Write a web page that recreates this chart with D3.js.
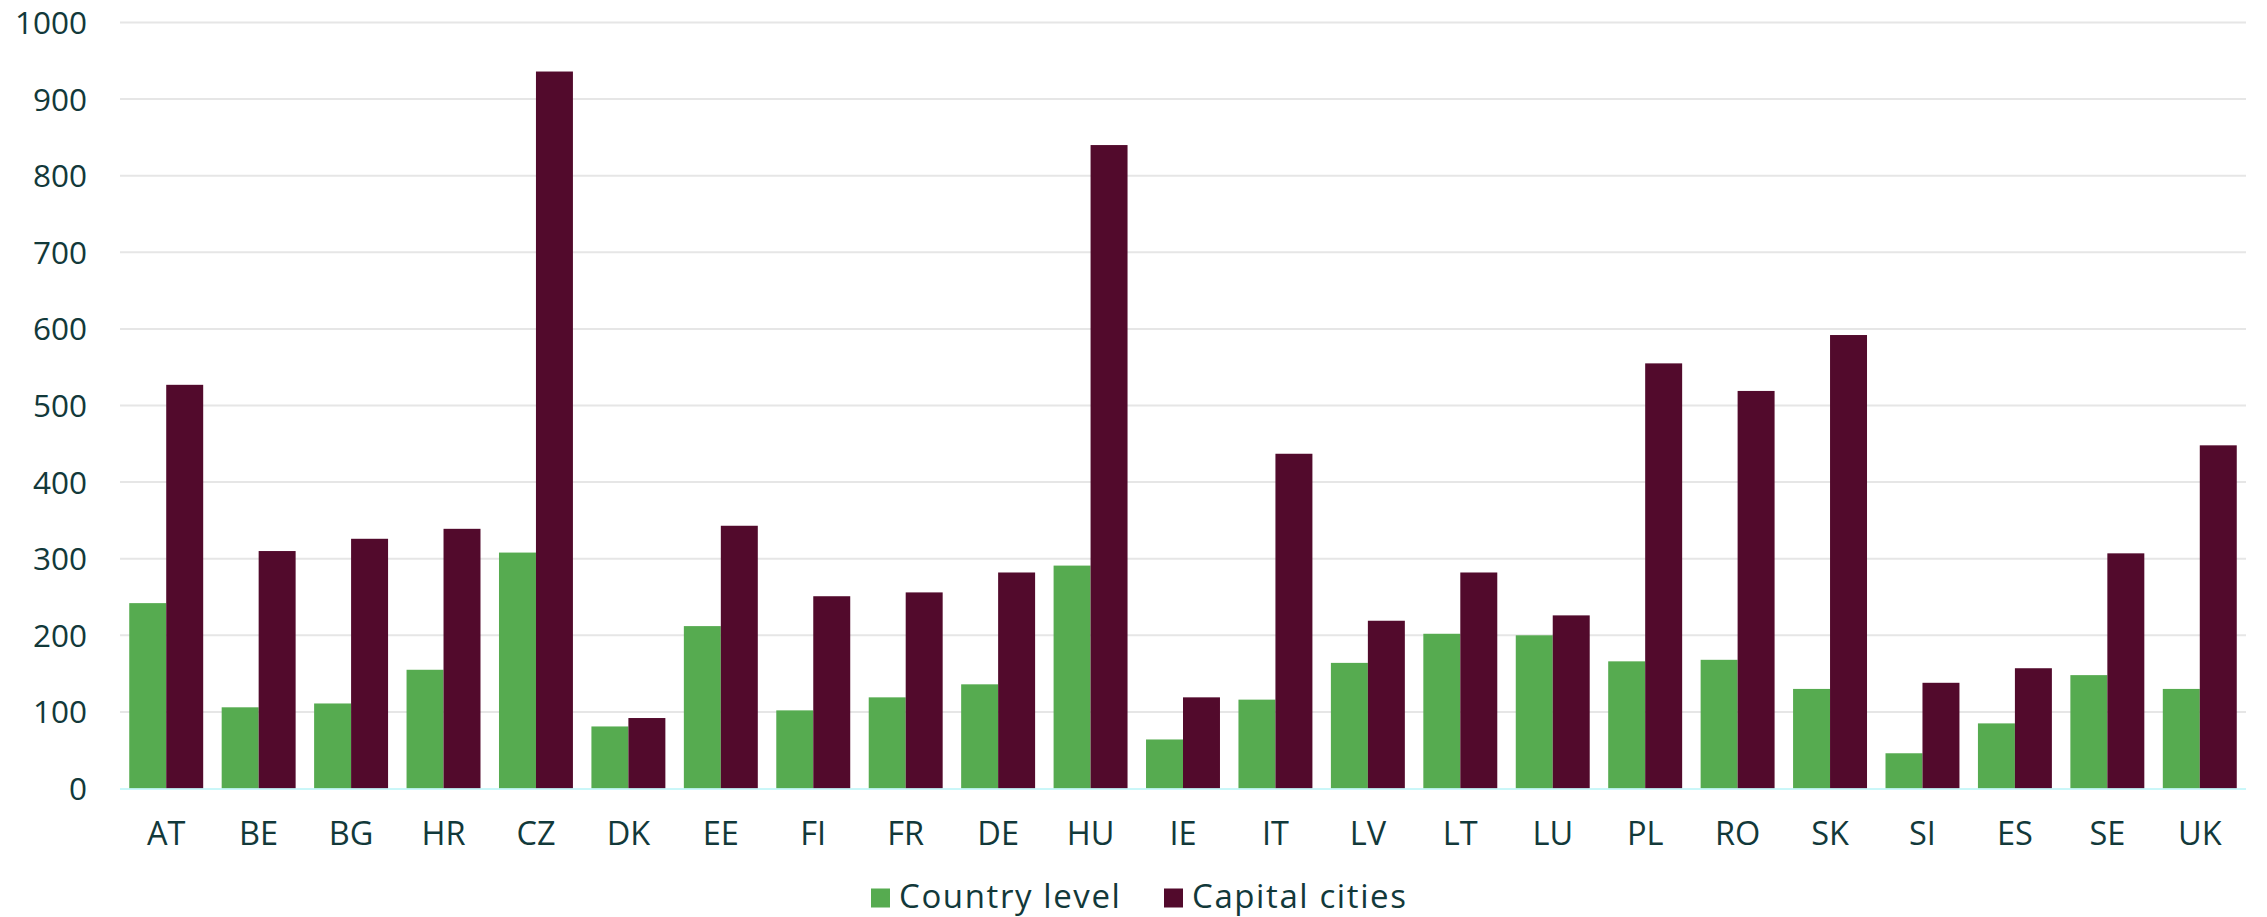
<!DOCTYPE html>
<html>
<head>
<meta charset="utf-8">
<script src="https://cdn.jsdelivr.net/npm/d3@7/dist/d3.min.js"></script>
<style>
  html, body { margin: 0; padding: 0; background: #ffffff; }
  svg { display: block; }
  text { font-family: "Open Sans", "DejaVu Sans", sans-serif; fill: #12393a; }
</style>
</head>
<body>
<svg id="chart" width="2267" height="917"></svg>
<script>
const categories = ["AT","BE","BG","HR","CZ","DK","EE","FI","FR","DE","HU","IE","IT","LV","LT","LU","PL","RO","SK","SI","ES","SE","UK"];
const countryLevel = [242,106,111,155,308,81,212,102,119,136,291,64,116,164,202,200,166,168,130,46,85,148,130];
const capitalCities = [527,310,326,339,936,92,343,251,256,282,840,119,437,219,282,226,555,519,592,138,157,307,448];
const yTicks = [0,100,200,300,400,500,600,700,800,900,1000];
const seriesNames = ["Country level","Capital cities"];
const seriesColors = ["#56ab50","#520a2c"];

(function () {
const svg = d3.select("#chart");
const mLeft = 120, mRight = 2246, mTop = 22.5, mBottom = 788.5;

const x = d3.scaleBand().domain(categories).range([mLeft, mRight]).paddingInner(0.2).paddingOuter(0.1);
const x1 = d3.scaleBand().domain([0,1]).range([0, x.bandwidth()]).padding(0);
const y = d3.scaleLinear().domain([0,1000]).range([mBottom, mTop]);

// gridlines
svg.append("g").selectAll("line").data(yTicks.filter(d => d > 0)).join("line")
  .attr("x1", mLeft).attr("x2", mRight)
  .attr("y1", d => y(d)).attr("y2", d => y(d))
  .attr("stroke", "#e6e6e6").attr("stroke-width", 2);

// y axis labels
const yAxis = d3.axisLeft(y).tickValues(yTicks).tickSize(0).tickPadding(0).tickFormat(d3.format("d"));
const gy = svg.append("g").attr("transform", "translate(87,0)").call(yAxis);
gy.select(".domain").remove();
gy.selectAll("text").attr("font-size", 31.5).style("font-family", '"Open Sans", sans-serif').attr("fill", "#12393a").attr("dy", "0.35em");

// bars
const rows = categories.map((c, i) => ({ c, vals: [countryLevel[i], capitalCities[i]] }));
const groups = svg.append("g").selectAll("g").data(rows).join("g")
  .attr("transform", d => `translate(${x(d.c)},0)`);
groups.selectAll("rect").data(d => d.vals.map((v, k) => ({ v, k }))).join("rect")
  .attr("x", d => x1(d.k))
  .attr("width", x1.bandwidth())
  .attr("y", d => y(d.v))
  .attr("height", d => y(0) - y(d.v))
  .attr("fill", d => seriesColors[d.k]);

// zero line
svg.append("line").attr("x1", mLeft).attr("x2", mRight).attr("y1", mBottom + 0.5).attr("y2", mBottom + 0.5)
  .attr("stroke", "#b8f4f7").attr("stroke-width", 1.6);

// x axis labels
const xAxis = d3.axisBottom(x).tickSize(0).tickPadding(0);
const gx = svg.append("g").attr("transform", `translate(0,${mBottom})`).call(xAxis);
gx.select(".domain").remove();
gx.selectAll("text").attr("font-size", 32.5).style("font-family", '"Open Sans", sans-serif').attr("fill", "#12393a").attr("dy", null).attr("y", 56.5);

// legend
const legendItems = [
  { name: seriesNames[0], color: seriesColors[0], sx: 871 },
  { name: seriesNames[1], color: seriesColors[1], sx: 1164 }
];
const lg = svg.append("g");
legendItems.forEach(it => {
  lg.append("rect").attr("x", it.sx).attr("y", 888.5).attr("width", 19).attr("height", 19).attr("fill", it.color);
  lg.append("text").attr("x", it.sx + 28).attr("y", 907.5).attr("font-size", 33).attr("letter-spacing", 1.6).text(it.name);
});
})();
</script>
</body>
</html>
